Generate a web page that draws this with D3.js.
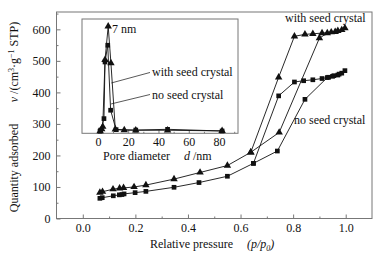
<!DOCTYPE html>
<html><head><meta charset="utf-8">
<script src="https://cdn.jsdelivr.net/npm/d3@7"></script>
<style>body{margin:0;background:#fff}svg{display:block}text{font-family:"Liberation Serif","Times New Roman",serif;fill:#111}</style>
</head><body><svg id="c" width="383" height="254"></svg>
<script>
// ---- data ----
const seedP = [0.065,0.075,0.115,0.14,0.155,0.195,0.24,0.347,0.446,0.55,0.639,0.747,0.90,0.93,0.96,0.985,0.997,0.97,0.945,0.91,0.875,0.845,0.805,0.745,0.639];
const seedV = [82,85,93,96,97,100,106,125,146,168,210,273,572,588,592,598,604,595,591,588,586,584,578,448,210];
const noSeedP = [0.065,0.074,0.116,0.139,0.149,0.157,0.199,0.24,0.347,0.442,0.55,0.649,0.74,0.845,0.93,0.95,0.97,0.985,0.997,0.975,0.955,0.935,0.91,0.875,0.84,0.805,0.745,0.649];
const noSeedV = [64,66,72,75,76,78,82,86,99,114,134,175,214,378,447,451,455,461,469,458,453,448,444,440,437,433,389,175];
const xTicks = [0,0.2,0.4,0.6,0.8,1.0];
const yTicks = [0,100,200,300,400,500,600];
// inset: pore size distribution (arbitrary units)
const insetSeedD = [1.5,2.5,3.2,4.7,6.8,8.6,11.5,17.4,25,46,82];
const insetSeedV = [0,0.2,0.43,6.8,10,6.5,0.18,0.11,0.09,0.09,0.03];
const insetNoD = [1.4,1.8,4.0,4.7,6.5,8.4,12,25,46,82];
const insetNoV = [0,0.1,1.2,6.6,8.2,2.0,0.15,0.11,0.18,0.02];
const insetTicks = [0,20,40,60,80];

const svg = d3.select("#c");
const frameCol = "#777";
// ---- main scales ----
const x = d3.scaleLinear().domain([-0.1,1.1]).range([56.5,372]);
const y = d3.scaleLinear().domain([0,655]).range([218.5,12]);

svg.append("rect").attr("x",56.5).attr("y",12).attr("width",372-56.5).attr("height",218.5-12)
  .attr("fill","none").attr("stroke",frameCol).attr("stroke-width",1);

const gx = svg.append("g").attr("transform","translate(0,218.5)");
gx.call(d3.axisBottom(x).tickValues(xTicks).tickSize(-4).tickPadding(5).tickFormat(d3.format(".1f")));
gx.append("g").call(d3.axisBottom(x).tickValues(d3.range(0.1,1.0,0.2)).tickSize(-2).tickFormat(""));
const gy = svg.append("g").attr("transform","translate(56.5,0)");
gy.call(d3.axisLeft(y).tickValues(yTicks).tickSize(-4).tickPadding(6));
gy.append("g").call(d3.axisLeft(y).tickValues(d3.range(50,651,100)).tickSize(-2).tickFormat(""));
svg.selectAll(".domain").remove();
svg.selectAll(".tick line").attr("stroke",frameCol);
svg.selectAll(".tick text").attr("font-size",12).attr("font-family","Liberation Serif").attr("fill","#111");

const line = d3.line().x(d=>x(d[0])).y(d=>y(d[1]));
const seed = seedP.map((p,i)=>[p,seedV[i]]);
const noSeed = noSeedP.map((p,i)=>[p,noSeedV[i]]);
svg.append("path").attr("d",line(seed)).attr("fill","none").attr("stroke","#111").attr("stroke-width",0.9);
svg.append("path").attr("d",line(noSeed)).attr("fill","none").attr("stroke","#111").attr("stroke-width",0.9);
const tri = d3.symbol().type(d3.symbolTriangle).size(24);
const sq = d3.symbol().type(d3.symbolSquare).size(22);
svg.append("g").selectAll("path").data(seed).join("path").attr("d",tri)
  .attr("transform",d=>`translate(${x(d[0])},${y(d[1])})`).attr("fill","#111");
svg.append("g").selectAll("path").data(noSeed).join("path").attr("d",sq)
  .attr("transform",d=>`translate(${x(d[0])},${y(d[1])})`).attr("fill","#111");

svg.append("text").attr("x",285).attr("y",22).attr("font-size",12).text("with seed crystal");
svg.append("text").attr("x",294).attr("y",124).attr("font-size",12).text("no seed crystal");

// axis titles
const xt = svg.append("text").attr("x",150).attr("y",248).attr("font-size",12);
xt.append("tspan").text("Relative pressure");
xt.append("tspan").attr("dx",14).attr("font-style","italic").text("(p/p");
xt.append("tspan").attr("font-style","italic").attr("font-size",8).attr("dy",3).text("0");
xt.append("tspan").attr("dy",-3).attr("font-style","italic").text(")");

svg.append("text").attr("transform","translate(18,168) rotate(-90)").attr("text-anchor","middle")
  .attr("font-size",12).text("Quantity adsorbed");
const vt = svg.append("text").attr("transform","translate(18,62) rotate(-90)").attr("text-anchor","middle").attr("font-size",12);
vt.append("tspan").attr("font-style","italic").text("v");
vt.append("tspan").text(" /(cm");
vt.append("tspan").attr("font-size",8).attr("dy",-4).text("3");
vt.append("tspan").attr("dy",4).text("·g");
vt.append("tspan").attr("font-size",8).attr("dy",-4).text("−1");
vt.append("tspan").attr("dy",4).text(" STP)");

// ---- inset ----
const ix = d3.scaleLinear().domain([-10.5,92.5]).range([82,238]);
const iy = d3.scaleLinear().domain([-0.2,10.7]).range([133.3,19]);
svg.append("rect").attr("x",82).attr("y",19).attr("width",238-82).attr("height",133.3-19)
  .attr("fill","#fff").attr("stroke",frameCol).attr("stroke-width",1);
const gix = svg.append("g").attr("transform","translate(0,133.3)");
gix.call(d3.axisBottom(ix).tickValues(insetTicks).tickSize(-3).tickPadding(4));
gix.append("g").call(d3.axisBottom(ix).tickValues([10,30,50,70,90]).tickSize(-1.5).tickFormat(""));
gix.selectAll(".domain").remove();
gix.selectAll(".tick line").attr("stroke",frameCol);
gix.selectAll(".tick text").attr("font-size",12).attr("font-family","Liberation Serif").attr("fill","#111");

const iline = d3.line().x(d=>ix(d[0])).y(d=>iy(d[1]));
const iSeed = insetSeedD.map((d,i)=>[d,insetSeedV[i]]);
const iNo = insetNoD.map((d,i)=>[d,insetNoV[i]]);
svg.append("path").attr("d",iline(iNo)).attr("fill","none").attr("stroke","#111").attr("stroke-width",0.9);
svg.append("path").attr("d",iline(iSeed)).attr("fill","none").attr("stroke","#111").attr("stroke-width",0.9);
svg.append("g").selectAll("path").data(iNo).join("path").attr("d",sq)
  .attr("transform",d=>`translate(${ix(d[0])},${iy(d[1])})`).attr("fill","#111");
svg.append("g").selectAll("path").data(iSeed).join("path").attr("d",tri)
  .attr("transform",d=>`translate(${ix(d[0])},${iy(d[1])})`).attr("fill","#111");

const ixt = svg.append("text").attr("x",103).attr("y",160).attr("font-size",12);
ixt.append("tspan").text("Pore diameter");
ixt.append("tspan").attr("dx",14).attr("font-style","italic").text("d");
ixt.append("tspan").text(" /nm");

svg.append("text").attr("x",112).attr("y",33).attr("font-size",12).text("7 nm");
// annotation arrows
svg.append("line").attr("x1",ix(8.9)).attr("y1",iy(4.6)).attr("x2",150).attr("y2",iy(5.6)).attr("stroke","#111").attr("stroke-width",0.7);
svg.append("line").attr("x1",ix(8.7)).attr("y1",iy(2.6)).attr("x2",150).attr("y2",iy(3.5)).attr("stroke","#111").attr("stroke-width",0.7);
svg.append("text").attr("x",152).attr("y",iy(5.6)+4).attr("font-size",12).text("with seed crystal");
svg.append("text").attr("x",152).attr("y",iy(3.5)+4).attr("font-size",12).text("no seed crystal");
</script></body></html>
